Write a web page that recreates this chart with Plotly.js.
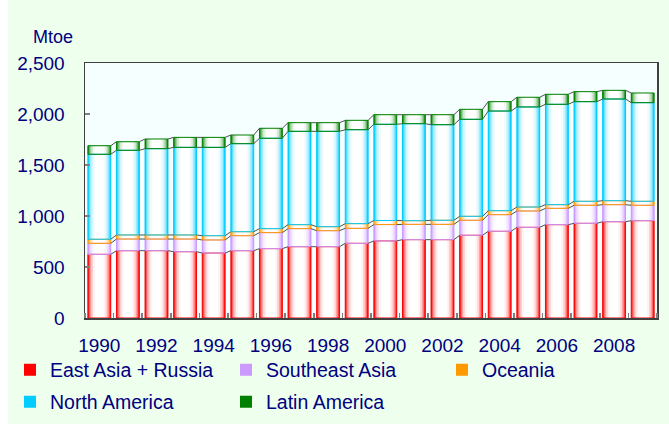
<!DOCTYPE html>
<html><head><meta charset="utf-8">
<script src="https://cdn.plot.ly/plotly-3.0.1.min.js"></script>
<style>html,body{margin:0;padding:0;background:#fff}#chart{width:669px;height:424px}</style>
</head><body><div id="chart"></div>
<script>
// ---- data (Mtoe) ----
const years = [1990,1991,1992,1993,1994,1995,1996,1997,1998,1999,2000,2001,2002,2003,2004,2005,2006,2007,2008,2009];
const eastAsiaRussia = [624,660,660,650,637,660,680,699,699,732,756,768,768,811,850,889,915,928,944,954];
const southeastAsia  = [108,114,114,124,128,147,157,177,157,147,160,150,150,147,163,160,160,177,167,151];
const oceania        = [40,40,40,40,42,39,39,39,39,46,40,36,40,39,39,39,36,39,39,39];
const northAmerica   = [833,830,846,859,866,863,886,915,935,921,943,951,937,951,977,981,984,977,997,967];
const latinAmerica   = [84,84,95,98,98,85,98,85,85,92,94,88,98,98,92,95,98,98,85,95];
const seriesNames = ['East Asia + Russia','Southeast Asia','Oceania','North America','Latin America'];
const xTickVals = [1990,1992,1994,1996,1998,2000,2002,2004,2006,2008];
const yTickVals = [0,500,1000,1500,2000,2500];

// ---- styling ----
const seriesData = [eastAsiaRussia, southeastAsia, oceania, northAmerica, latinAmerica];
const edgeColors = ['#FF0000','#CC99FF','#FF9900','#00CCFF','#008000'];
const legendOf = ['legend','legend','legend','legend2','legend2'];
const textColor = '#000080';
const fontFam = 'Liberation Sans, Arial, sans-serif';
const BAR_W = 0.8;
const layers = [{w:0.8,t:0},{w:0.74,t:0.35},{w:0.66,t:0.62},{w:0.56,t:0.82},{w:0.44,t:0.95},{w:0.3,t:1.0}];

function blend(hex, t){
  const r=parseInt(hex.slice(1,3),16), g=parseInt(hex.slice(3,5),16), b=parseInt(hex.slice(5,7),16);
  const m=v=>Math.round(v+(255-v)*t);
  return 'rgb('+m(r)+','+m(g)+','+m(b)+')';
}

// cumulative bases
const bases = [];
let run = years.map(()=>0);
seriesData.forEach(s=>{ bases.push(run.slice()); run = run.map((v,i)=>v+s[i]); });

const traces = [];
// series lines connecting stack boundaries
seriesData.forEach((s,k)=>{
  const top = bases[k].map((b,i)=>b+s[i]);
  const xs=[], ys=[];
  for(let i=0;i<years.length-1;i++){
    xs.push(years[i]+BAR_W/2, years[i+1]-BAR_W/2, null);
    ys.push(top[i], top[i+1], null);
  }
  traces.push({type:'scatter',mode:'lines',x:xs,y:ys,line:{color:'#505050',width:1},
    showlegend:false,hoverinfo:'skip'});
});
// gradient layers
layers.forEach((L,li)=>{
  seriesData.forEach((s,k)=>{
    traces.push({type:'bar',x:years,y:s,base:bases[k],width:L.w,name:seriesNames[k],
      showlegend: li===0, legend: legendOf[k],
      marker:{color: blend(edgeColors[k], L.t), line:{width:0}},
      hoverinfo:'skip'});
  });
});
// outlines
seriesData.forEach((s,k)=>{
  traces.push({type:'bar',x:years,y:s,base:bases[k],width:BAR_W,showlegend:false,
    marker:{color:'rgba(0,0,0,0)',line:{color:edgeColors[k],width:1}},hoverinfo:'skip'});
});

const L=85, R=12, T=63, B=106, W=669, H=424;
const pw=W-L-R, ph=H-T-B;
const py = v => (T+ph-v)/ph; // pixel row -> paper y
const px = v => (v-L)/pw;    // pixel col -> paper x
const legCommon = {orientation:'h',xanchor:'left',yanchor:'middle',entrywidth:171,entrywidthmode:'pixels',
  bgcolor:'rgba(0,0,0,0)',traceorder:'normal',font:{size:19.5,color:textColor}};
const layout = {
  width:W, height:H,
  margin:{l:L,r:R,t:T,b:B,pad:0,autoexpand:false},
  paper_bgcolor:'#EEFFEE', plot_bgcolor:'#F5FFFF',
  barmode:'overlay', hovermode:false,
  font:{family:fontFam,size:19,color:textColor},
  xaxis:{range:[1989.5,2009.5],tickmode:'array',tickvals:xTickVals,ticktext:xTickVals.map(String),
    ticks:'',showgrid:false,zeroline:false,showline:true,mirror:true,linecolor:'#404040',linewidth:1.5,
    ticklabelstandoff:10,
    minor:{tick0:1989.5,dtick:1,ticks:'inside',ticklen:5,tickcolor:'#808080',tickwidth:1.5,showgrid:false},
    tickfont:{size:19,color:textColor}},
  yaxis:{range:[0,2500],tickmode:'array',tickvals:yTickVals,tickformat:',d',
    ticks:'inside',ticklen:5,tickcolor:'#808080',tickwidth:1.5,showgrid:false,zeroline:false,
    showline:true,mirror:true,linecolor:'#404040',linewidth:1.5,ticklabelstandoff:15,
    tickfont:{size:19,color:textColor}},
  legend:Object.assign({x:px(10),y:py(370)},legCommon),
  legend2:Object.assign({x:px(10),y:py(402)},legCommon),
  annotations:[{text:'Mtoe',xref:'paper',yref:'paper',x:px(31),xanchor:'left',
    y:py(37),yanchor:'middle',showarrow:false,font:{size:18,color:textColor}}],
  shapes:[{type:'rect',xref:'paper',yref:'paper',x0:px(0),x1:px(8),y0:py(H),y1:py(0),
    fillcolor:'#FFFFFF',line:{width:0},layer:'below'}]
};
Plotly.newPlot('chart',traces,layout,{displayModeBar:false,staticPlot:true});
</script></body></html>
